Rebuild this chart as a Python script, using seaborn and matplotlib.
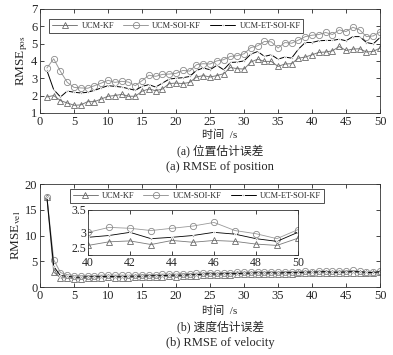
import numpy as np
import pandas as pd
import matplotlib
matplotlib.use('Agg')
import matplotlib.pyplot as plt
import seaborn as sns

sns.set_style('ticks')
plt.rcParams['font.family'] = ['Liberation Serif', 'Noto Sans CJK SC']
plt.rcParams['mathtext.fontset'] = 'stix'
plt.rcParams['xtick.direction'] = 'in'
plt.rcParams['ytick.direction'] = 'in'

t = list(range(1, 51))

# position RMSE
pos_kf = [1.92, 2.0, 1.71, 1.57, 1.44, 1.46, 1.65, 1.65, 1.8, 1.96,
          2.0, 2.07, 1.96, 1.96, 2.25, 2.38, 2.28, 2.38, 2.69, 2.72,
          2.69, 2.76, 3.07, 3.15, 3.07, 3.15, 3.26, 3.62, 3.55, 3.53,
          3.93, 4.1, 3.97, 3.97, 3.68, 3.82, 3.84, 4.16, 4.22, 4.35,
          4.49, 4.51, 4.58, 4.83, 4.6, 4.68, 4.7, 4.51, 4.55, 4.74]
pos_soi = [3.59, 4.12, 3.39, 2.76, 2.47, 2.44, 2.42, 2.57, 2.72, 2.88,
           2.76, 2.82, 2.78, 2.57, 2.86, 3.17, 3.11, 3.22, 3.24, 3.28,
           3.45, 3.41, 3.78, 3.84, 3.82, 4.0, 4.07, 4.26, 4.3, 4.41,
           4.77, 4.87, 5.12, 5.1, 4.74, 5.06, 5.02, 5.2, 5.4, 5.48,
           5.52, 5.64, 5.52, 5.79, 5.69, 5.94, 5.79, 5.4, 5.44, 5.67]
pos_et = [3.45, 2.34, 1.92, 2.26, 2.19, 2.15, 2.19, 2.3, 2.44, 2.57,
          2.53, 2.49, 2.4, 2.3, 2.53, 2.63, 2.49, 2.72, 2.95, 3.0,
          3.03, 3.1, 3.45, 3.59, 3.49, 3.74, 3.49, 3.91, 3.93, 4.0,
          4.39, 4.54, 4.26, 4.35, 4.1, 4.22, 4.16, 4.68, 5.06, 5.06,
          5.16, 5.18, 5.18, 5.25, 5.16, 5.4, 5.4, 5.06, 4.98, 5.35]

# velocity RMSE
vel_kf = [17.5, 2.9, 1.8, 1.8, 1.6, 1.6, 1.7, 1.7, 1.8, 1.9,
          1.8, 1.8, 1.8, 1.9, 1.9, 2.0, 1.9, 2.0, 2.1, 2.0,
          2.1, 2.2, 2.2, 2.3, 2.4, 2.3, 2.4, 2.4, 2.5, 2.5,
          2.5, 2.6, 2.5, 2.6, 2.5, 2.6, 2.6, 2.7, 2.7, 2.71,
          2.79, 2.81, 2.73, 2.82, 2.78, 2.82, 2.80, 2.74, 2.71, 2.87]
vel_soi = [17.5, 5.3, 2.8, 2.4, 2.2, 2.2, 2.2, 2.2, 2.3, 2.3,
           2.3, 2.3, 2.3, 2.3, 2.4, 2.4, 2.4, 2.5, 2.5, 2.5,
           2.6, 2.6, 2.7, 2.7, 2.8, 2.7, 2.8, 2.8, 2.9, 2.9,
           2.9, 3.0, 2.9, 3.0, 2.9, 3.0, 3.0, 3.0, 3.1, 3.0,
           3.11, 3.09, 3.04, 3.09, 3.14, 3.22, 3.04, 2.97, 2.86, 3.06]
vel_et = [17.5, 4.0, 2.2, 2.1, 1.9, 1.9, 2.0, 2.0, 2.0, 2.1,
          2.0, 2.0, 2.1, 2.1, 2.1, 2.2, 2.2, 2.2, 2.3, 2.3,
          2.3, 2.4, 2.4, 2.5, 2.6, 2.5, 2.6, 2.6, 2.6, 2.7,
          2.7, 2.8, 2.7, 2.8, 2.7, 2.8, 2.8, 2.8, 2.9, 2.89,
          2.93, 3.0, 2.86, 2.89, 2.93, 3.0, 2.96, 2.86, 2.8, 3.0]

labels = ['UCM-KF', 'UCM-SOI-KF', 'UCM-ET-SOI-KF']
styles = [dict(color='#7a7a7a', marker='^', markersize=4.5, mfc='none', mec='#6a6a6a', mew=0.6),
          dict(color='#9a9a9a', marker='o', markersize=4.5, mfc='none', mec='#8a8a8a', mew=0.6),
          dict(color='black', marker='.', markersize=2.5)]


def draw(ax, series, lw=0.7):
    for y, lab, st in zip(series, labels, styles):
        sns.lineplot(x=t, y=y, ax=ax, label=lab, linewidth=lw, **st)


def frame(ax, size=9, pad=2):
    ax.tick_params(top=True, right=True, labelsize=size, length=3, width=0.6, pad=pad)
    for s in ax.spines.values():
        s.set_linewidth(0.6)
        s.set_color('#333333')


fig = plt.figure(figsize=(3.93, 3.55), dpi=100)
cx = 0.56

# (a) position
ax1 = fig.add_axes([0.102, 0.682, 0.865, 0.293])
draw(ax1, [pos_kf, pos_soi, pos_et])
ax1.set_xlim(0, 50)
ax1.set_ylim(1, 7)
ax1.set_xticks(range(0, 51, 5))
ax1.set_yticks(range(1, 8))
ax1.set_ylabel('RMSE$_{\\rm pos}$', fontsize=9.5, labelpad=1)
ax1.set_xlabel('')
frame(ax1)
leg = ax1.legend(loc='upper left', ncol=3, fontsize=6, frameon=True, fancybox=False,
                 edgecolor='black', bbox_to_anchor=(0.015, 0.94), handlelength=3,
                 borderpad=0.35, columnspacing=1.1, handletextpad=0.5)
leg.get_frame().set_linewidth(0.6)
fig.text(cx, 1 - 135 / 355, '时间  /s', ha='center', va='center', fontsize=8)
fig.text(cx, 1 - 151 / 355, '(a) 位置估计误差', ha='center', va='center', fontsize=8.5)
fig.text(cx, 1 - 167 / 355, '(a) RMSE of position', ha='center', va='center', fontsize=9)

# (b) velocity
ax2 = fig.add_axes([0.102, 0.1915, 0.865, 0.290])
draw(ax2, [vel_kf, vel_soi, vel_et])
ax2.set_xlim(0, 50)
ax2.set_ylim(0, 20)
ax2.set_xticks(range(0, 51, 5))
ax2.set_yticks(range(0, 21, 5))
ax2.set_ylabel('RMSE$_{\\rm vel}$', fontsize=9.5, labelpad=1)
ax2.set_xlabel('')
frame(ax2)
leg2 = ax2.legend(loc='upper left', ncol=3, fontsize=6, frameon=True, fancybox=False,
                  edgecolor='black', bbox_to_anchor=(0.075, 0.99), handlelength=3,
                  borderpad=0.35, columnspacing=1.1, handletextpad=0.5)
leg2.get_frame().set_linewidth(0.6)
fig.text(cx, 1 - 311 / 355, '时间  /s', ha='center', va='center', fontsize=8)
fig.text(cx, 1 - 327 / 355, '(b) 速度估计误差', ha='center', va='center', fontsize=8.5)
fig.text(cx, 1 - 343 / 355, '(b) RMSE of velocity', ha='center', va='center', fontsize=9)

# inset
ax3 = fig.add_axes([0.224, 0.282, 0.534, 0.127])
draw(ax3, [vel_kf, vel_soi, vel_et], lw=0.6)
ax3.set_xlim(40, 50)
ax3.set_ylim(2.5, 3.5)
ax3.set_xticks(range(40, 51, 2))
ax3.set_yticks([2.5, 3, 3.5])
ax3.set_yticklabels(['2.5', '3', '3.5'])
ax3.set_xlabel('')
ax3.legend().remove()
frame(ax3, size=8.5, pad=1.5)
ax3.get_yticklabels()[0].set_verticalalignment('bottom')

fig.savefig('out.png', dpi=100)
